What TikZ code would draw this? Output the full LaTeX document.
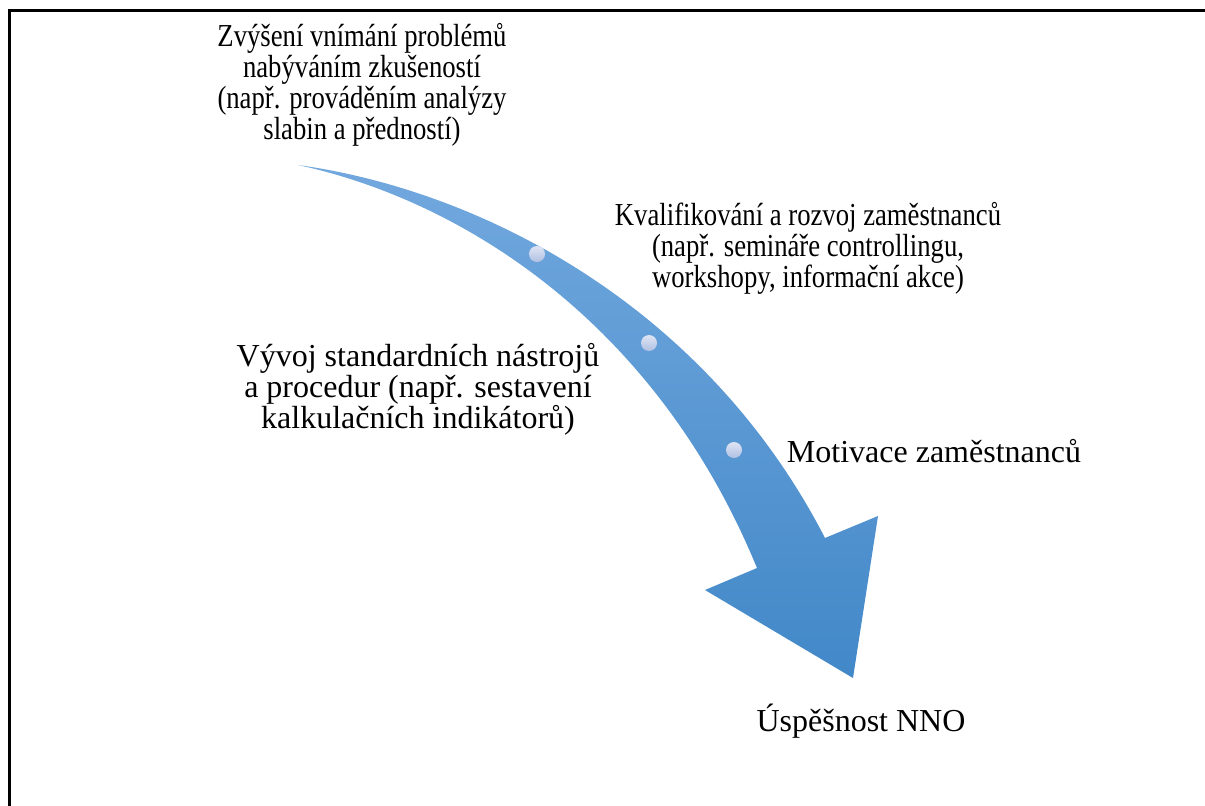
\documentclass[tikz,border=0pt]{standalone}
\usepackage{fontspec}
\setmainfont{Liberation Serif}
\usetikzlibrary{shadings}
\definecolor{arrowtop}{RGB}{114,168,222}
\definecolor{arrowbot}{RGB}{66,136,200}
\definecolor{dotlight}{RGB}{222,228,244}
\definecolor{dotdark}{RGB}{176,192,226}
\tikzset{
  label/.style={align=center, inner sep=0pt, font=\fontsize{32}{31}\selectfont},
  squeezed/.style={label, xscale=0.834, transform shape},
  frame/.style={line width=3pt, black},
  stepdot/.style={circle, minimum size=16pt, inner sep=0pt, top color=dotlight, bottom color=dotdark, draw=none},
}
\begin{document}
\begin{tikzpicture}[x=1pt,y=-1pt]
\useasboundingbox (0,0) rectangle (1205,806);
% frame: top and left rules
\draw[frame] (1210,10) -- (9,10) -- (9,812);

% curved process arrow
\shade[top color=arrowtop, bottom color=arrowbot, shading angle=0]
  (298,165) .. controls (480,190) and (705,305) .. (825,538)
  -- (878,516) -- (853,678) -- (705,590) -- (757,568)
  .. controls (655,320) and (460,200) .. (298,165) -- cycle;

% step markers along the arrow
\node[stepdot] (d1) at (537,254) {};
\node[stepdot] (d2) at (649,343) {};
\node[stepdot] (d3) at (734,450) {};

% step labels
\node[squeezed] (t1) at (362,85) {Zvýšení vnímání problémů\\nabýváním zkušeností\\(např. prováděním analýzy\\slabin a předností)};
\node[squeezed] (t2) at (808,248) {Kvalifikování a rozvoj zaměstnanců\\(např. semináře controllingu,\\workshopy, informační akce)};
\node[label] (t3) at (418,389) {Vývoj standardních nástrojů\\a procedur (např. sestavení\\kalkulačních indikátorů)};
\node[label] (t4) at (934,451) {Motivace zaměstnanců};
\node[label] (t5) at (861,721) {Úspěšnost NNO};
\end{tikzpicture}
\end{document}
